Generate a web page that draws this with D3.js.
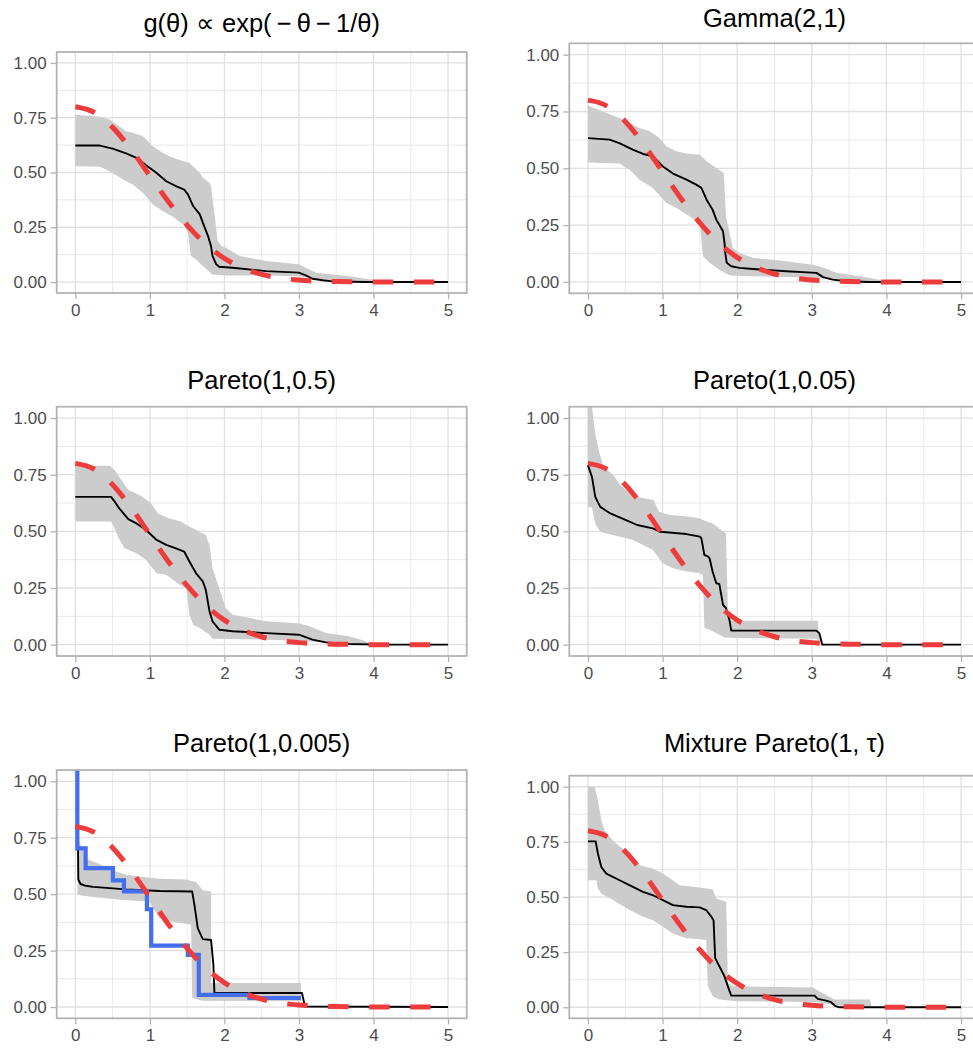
<!DOCTYPE html>
<html>
<head>
<meta charset="utf-8">
<script src="https://cdn.jsdelivr.net/npm/d3@7"></script>
<style>
  body { margin: 0; background: #ffffff; }
  svg { display: block; font-family: "Liberation Sans", Arial, Helvetica, sans-serif; }
</style>
</head>
<body>
<svg id="chart" width="973" height="1049"></svg>
<script>
// ---- axis ticks ----
const xTicks = [0, 1, 2, 3, 4, 5];
const xMinor = [0.5, 1.5, 2.5, 3.5, 4.5];
const yTicks = [0, 0.25, 0.5, 0.75, 1];
const yTickLabels = ["0.00", "0.25", "0.50", "0.75", "1.00"];
const yMinor = [0.125, 0.375, 0.625, 0.875];

// ---- true density (red dashed), shared by every panel ----
const priorX = [0, 0.25, 0.5, 0.75, 1, 1.25, 1.5, 1.75, 2, 2.25, 2.5, 2.75, 3, 3.25, 3.5, 3.75, 4, 4.25, 4.5, 4.75, 5];
const priorY = [0.80, 0.775, 0.706, 0.604, 0.485, 0.366, 0.260, 0.173, 0.108, 0.064, 0.035, 0.018, 0.009, 0.004, 0.002, 0.001, 0, 0, 0, 0, 0];

// ---- posterior mean [x, y] and band edges, one set per prior ----
const fitExpInv = [[0,0.623],[0.33,0.623],[0.50,0.609],[0.68,0.587],[0.82,0.567],[0.95,0.533],[1.09,0.498],[1.22,0.460],[1.35,0.438],[1.46,0.422],[1.51,0.400],[1.58,0.347],[1.67,0.309],[1.71,0.271],[1.78,0.210],[1.82,0.164],[1.84,0.119],[1.89,0.081],[1.93,0.070],[2.11,0.065],[2.56,0.050],[3.00,0.043],[3.09,0.030],[3.18,0.015],[3.32,0.008],[3.45,0.003],[3.90,0],[5,0]];
const upperExpInv = [[0,0.764],[0.33,0.754],[0.46,0.742],[0.59,0.711],[0.68,0.688],[0.77,0.681],[0.91,0.666],[1.04,0.620],[1.17,0.590],[1.31,0.567],[1.44,0.552],[1.53,0.544],[1.67,0.498],[1.71,0.476],[1.80,0.453],[1.82,0.438],[1.87,0.301],[1.91,0.187],[1.96,0.164],[2.02,0.157],[2.20,0.119],[2.56,0.096],[3.00,0.081],[3.09,0.065],[3.23,0.043],[3.45,0.035],[3.67,0.027],[3.90,0.015],[4.12,0.005],[4.34,0]];
const lowerExpInv = [[0,0.529],[0.33,0.526],[0.46,0.506],[0.64,0.468],[0.77,0.445],[0.91,0.407],[1.04,0.354],[1.17,0.324],[1.31,0.298],[1.46,0.258],[1.51,0.225],[1.55,0.119],[1.62,0.103],[1.71,0.073],[1.84,0.035],[2.02,0.030],[2.56,0.030],[3.00,0.027],[3.23,0.015],[3.45,0.008],[3.90,0.002],[4.34,0]];

const fitGamma = [[0,0.633],[0.29,0.626],[0.42,0.611],[0.60,0.582],[0.74,0.563],[0.87,0.553],[1.00,0.509],[1.14,0.477],[1.32,0.450],[1.45,0.428],[1.52,0.414],[1.59,0.362],[1.67,0.318],[1.72,0.274],[1.76,0.252],[1.81,0.223],[1.83,0.172],[1.84,0.128],[1.86,0.084],[1.92,0.069],[2.03,0.062],[2.21,0.057],[2.66,0.047],[3.06,0.040],[3.10,0.032],[3.15,0.021],[3.28,0.010],[3.46,0.003],[3.77,0],[5,0]];
const upperGamma = [[0,0.776],[0.25,0.743],[0.42,0.721],[0.56,0.699],[0.69,0.677],[0.83,0.663],[0.96,0.633],[1.05,0.597],[1.18,0.575],[1.32,0.565],[1.50,0.560],[1.59,0.531],[1.72,0.501],[1.82,0.479],[1.85,0.289],[1.94,0.150],[2.03,0.128],[2.21,0.106],[2.66,0.091],[3.01,0.076],[3.10,0.069],[3.33,0.040],[3.77,0.018],[4.00,0.003],[4.22,0]];
const lowerGamma = [[0,0.526],[0.42,0.521],[0.56,0.494],[0.69,0.450],[0.87,0.413],[1.05,0.348],[1.18,0.326],[1.36,0.289],[1.50,0.260],[1.54,0.113],[1.63,0.084],[1.76,0.054],[1.90,0.028],[2.21,0.025],[2.66,0.022],[3.10,0.018],[3.33,0.007],[3.55,0.001],[3.77,0],[4.22,0]];

const fitPareto05 = [[0,0.652],[0.48,0.652],[0.53,0.630],[0.59,0.601],[0.71,0.554],[0.82,0.535],[0.95,0.506],[1.09,0.462],[1.22,0.440],[1.35,0.425],[1.46,0.411],[1.53,0.367],[1.62,0.315],[1.71,0.279],[1.75,0.242],[1.80,0.147],[1.84,0.103],[1.93,0.066],[2.11,0.059],[2.56,0.051],[3.00,0.044],[3.18,0.022],[3.36,0.010],[3.67,0.003],[4.12,0],[5,0]];
const upperPareto05 = [[0,0.789],[0.46,0.789],[0.53,0.770],[0.62,0.726],[0.71,0.682],[0.86,0.660],[1.00,0.630],[1.11,0.579],[1.26,0.557],[1.42,0.543],[1.49,0.528],[1.62,0.506],[1.75,0.484],[1.80,0.440],[1.84,0.337],[1.93,0.249],[2.02,0.161],[2.11,0.132],[2.56,0.103],[3.00,0.095],[3.14,0.081],[3.36,0.051],[3.67,0.037],[3.90,0.015],[3.99,0]];
const lowerPareto05 = [[0,0.543],[0.48,0.543],[0.53,0.513],[0.57,0.477],[0.66,0.425],[0.82,0.403],[0.95,0.374],[1.09,0.315],[1.22,0.308],[1.40,0.264],[1.49,0.249],[1.53,0.132],[1.58,0.088],[1.67,0.073],[1.80,0.044],[1.84,0.026],[2.11,0.025],[2.56,0.022],[3.00,0.018],[3.23,0.012],[3.45,0.006],[3.67,0],[3.99,0]];

const fitPareto005 = [[0,0.792],[0.054,0.740],[0.098,0.652],[0.165,0.608],[0.30,0.579],[0.51,0.550],[0.66,0.528],[0.87,0.513],[0.97,0.498],[1.32,0.488],[1.50,0.477],[1.52,0.469],[1.56,0.396],[1.61,0.389],[1.63,0.381],[1.67,0.323],[1.72,0.271],[1.76,0.268],[1.81,0.176],[1.85,0.161],[1.90,0.103],[1.92,0.062],[3.06,0.062],[3.10,0.051],[3.14,0],[5,0]];
const upperPareto005 = [[0,1.09],[0.054,1.05],[0.098,0.931],[0.143,0.858],[0.209,0.784],[0.343,0.748],[0.43,0.704],[0.60,0.660],[0.66,0.652],[0.88,0.638],[0.95,0.586],[1.10,0.572],[1.37,0.564],[1.50,0.557],[1.54,0.550],[1.67,0.535],[1.76,0.513],[1.85,0.491],[1.875,0.147],[1.92,0.106],[3.08,0.106],[3.10,0.015],[3.125,0]];
const lowerPareto005 = [[0,0.608],[0.054,0.605],[0.098,0.535],[0.165,0.498],[0.25,0.490],[0.43,0.476],[0.60,0.462],[0.74,0.440],[0.87,0.418],[0.92,0.396],[1.00,0.359],[1.14,0.337],[1.32,0.323],[1.50,0.315],[1.54,0.308],[1.56,0.073],[1.63,0.066],[1.76,0.044],[1.83,0.032],[1.99,0.029],[3.06,0.026],[3.125,0]];

const fitPareto0005 = [[0.036,0.700],[0.040,0.565],[0.070,0.545],[0.14,0.537],[0.237,0.532],[0.683,0.521],[1.129,0.514],[1.567,0.512],[1.598,0.451],[1.643,0.348],[1.71,0.301],[1.821,0.297],[1.852,0.186],[1.866,0.062],[3.04,0.062],[3.06,0.032],[3.08,0.002],[5,0]];
const upperPareto0005 = [[0.03,0.74],[0.07,0.72],[0.147,0.656],[0.326,0.634],[0.504,0.605],[0.683,0.586],[0.906,0.576],[1.129,0.568],[1.487,0.565],[1.621,0.553],[1.71,0.517],[1.821,0.512],[1.822,0.106],[3.027,0.106]];
const lowerPareto0005 = [[0.03,0.50],[0.058,0.495],[0.237,0.487],[0.683,0.473],[0.951,0.468],[0.996,0.465],[1.129,0.392],[1.308,0.377],[1.553,0.366],[1.567,0.041],[1.70,0.028],[3.027,0.025]];
// single-draw step estimate (blue)
const stepX = [0.027, 0.027, 0.138, 0.504, 0.652, 0.96, 1.018, 1.509, 1.656, 2.335, 3.027];
const stepY = [1.2, 0.703, 0.615, 0.561, 0.512, 0.433, 0.272, 0.231, 0.054, 0.040, 0.040];

const fitMixture = [[0,0.752],[0.103,0.752],[0.134,0.696],[0.179,0.636],[0.246,0.606],[0.424,0.576],[0.603,0.546],[0.737,0.523],[0.871,0.508],[1.004,0.486],[1.138,0.463],[1.317,0.456],[1.496,0.453],[1.585,0.441],[1.652,0.411],[1.683,0.395],[1.705,0.223],[1.763,0.185],[1.830,0.140],[1.875,0.095],[1.920,0.053],[3.036,0.053],[3.080,0.038],[3.192,0.030],[3.259,0.023],[3.317,0.005],[3.371,0],[5,0]];
const upperMixture = [[0,1.0],[0.089,1.0],[0.134,0.937],[0.179,0.847],[0.223,0.802],[0.335,0.756],[0.513,0.704],[0.692,0.644],[0.871,0.629],[1.004,0.606],[1.138,0.576],[1.228,0.553],[1.406,0.546],[1.585,0.538],[1.674,0.534],[1.719,0.493],[1.853,0.478],[1.875,0.110],[1.942,0.095],[3.013,0.090],[3.103,0.072],[3.304,0.035],[3.78,0.035],[3.80,0]];
const lowerMixture = [[0,0.576],[0.112,0.576],[0.134,0.538],[0.179,0.516],[0.335,0.486],[0.558,0.441],[0.737,0.411],[0.871,0.395],[1.004,0.365],[1.138,0.335],[1.317,0.313],[1.496,0.308],[1.585,0.305],[1.607,0.095],[1.674,0.050],[1.763,0.035],[1.987,0.027],[3.058,0.024],[3.281,0.012],[3.549,0.002],[3.80,0]];

const titles = ["g(θ) ∝ exp(−θ−1/θ)", "Gamma(2,1)", "Pareto(1,0.5)", "Pareto(1,0.05)", "Pareto(1,0.005)", "Mixture Pareto(1, τ)"];

// ---- panel geometry (pixels) ----
const layout = [
  { l: 56.7,  r: 466.7, t: 52,    b: 293,    ty: 31.7 },
  { l: 569.3, r: 979.7, t: 43.3,  b: 293.3,  ty: 26.7 },
  { l: 56.7,  r: 466.7, t: 406.7, b: 656,    ty: 389.3 },
  { l: 569.3, r: 979.7, t: 406.7, b: 656,    ty: 389.3 },
  { l: 56.7,  r: 466.7, t: 770,   b: 1018.3, ty: 752.3 },
  { l: 569.3, r: 979.7, t: 775.7, b: 1018.3, ty: 752.3 }
];

const series = [
  { fit: fitExpInv,     upper: upperExpInv,     lower: lowerExpInv },
  { fit: fitGamma,      upper: upperGamma,      lower: lowerGamma },
  { fit: fitPareto05,   upper: upperPareto05,   lower: lowerPareto05 },
  { fit: fitPareto005,  upper: upperPareto005,  lower: lowerPareto005 },
  { fit: fitPareto0005, upper: upperPareto0005, lower: lowerPareto0005, step: true },
  { fit: fitMixture,    upper: upperMixture,    lower: lowerMixture }
];

const GRID = "#e0e0e0", BORDER = "#b3b3b3", TEXT = "#4d4d4d";
const RED = "#ee3b3b", BLUE = "#436eee", BAND = "#cccccc";

const svg = d3.select("#chart");
svg.append("rect").attr("width", 973).attr("height", 1049).attr("fill", "#ffffff");

const priorPts = priorX.map((x, i) => [x, priorY[i]]);
const stepPts = stepX.map((x, i) => [x, stepY[i]]);

layout.forEach((L, i) => {
  const S = series[i];
  const x = d3.scaleLinear().domain([-0.25, 5.25]).range([L.l, L.r]);
  const y = d3.scaleLinear().domain([-0.05, 1.05]).range([L.b, L.t]);
  const g = svg.append("g");

  const clipId = "clip" + i;
  svg.append("defs").append("clipPath").attr("id", clipId)
    .append("rect").attr("x", L.l).attr("y", L.t).attr("width", L.r - L.l).attr("height", L.b - L.t);

  // grid
  const grid = g.append("g");
  grid.selectAll(".vmin").data(xMinor).join("line")
    .attr("x1", d => x(d)).attr("x2", d => x(d)).attr("y1", L.t).attr("y2", L.b)
    .attr("stroke", GRID).attr("stroke-width", 0.7);
  grid.selectAll(".hmin").data(yMinor).join("line")
    .attr("y1", d => y(d)).attr("y2", d => y(d)).attr("x1", L.l).attr("x2", L.r)
    .attr("stroke", GRID).attr("stroke-width", 0.7);
  grid.selectAll(".vmaj").data(xTicks).join("line")
    .attr("x1", d => x(d)).attr("x2", d => x(d)).attr("y1", L.t).attr("y2", L.b)
    .attr("stroke", GRID).attr("stroke-width", 1.3);
  grid.selectAll(".hmaj").data(yTicks).join("line")
    .attr("y1", d => y(d)).attr("y2", d => y(d)).attr("x1", L.l).attr("x2", L.r)
    .attr("stroke", GRID).attr("stroke-width", 1.3);

  const plot = g.append("g").attr("clip-path", `url(#${clipId})`);

  // credible band: upper edge forward, lower edge backward
  const bandPts = S.upper.concat(S.lower.slice().reverse());
  plot.append("path")
    .attr("d", d3.line().x(d => x(d[0])).y(d => y(d[1]))(bandPts) + "Z")
    .attr("fill", BAND).attr("stroke", "none");

  // posterior mean
  plot.append("path")
    .attr("d", d3.line().x(d => x(d[0])).y(d => y(d[1]))(S.fit))
    .attr("fill", "none").attr("stroke", "#000000").attr("stroke-width", 1.9)
    .attr("stroke-linejoin", "round");

  if (S.step) {
    plot.append("path")
      .attr("d", d3.line().curve(d3.curveStepAfter).x(d => x(d[0])).y(d => y(d[1]))(stepPts))
      .attr("fill", "none").attr("stroke", BLUE).attr("stroke-width", 4.2);
  }

  // true density
  plot.append("path")
    .attr("d", d3.line().curve(d3.curveMonotoneX).x(d => x(d[0])).y(d => y(d[1]))(priorPts))
    .attr("fill", "none").attr("stroke", RED).attr("stroke-width", 5)
    .attr("stroke-dasharray", "20.5,20.5").attr("stroke-linecap", "butt");

  // border
  g.append("rect").attr("x", L.l).attr("y", L.t).attr("width", L.r - L.l).attr("height", L.b - L.t)
    .attr("fill", "none").attr("stroke", BORDER).attr("stroke-width", 1.8);

  // axes
  const ax = g.append("g").attr("transform", `translate(0,${L.b})`)
    .call(d3.axisBottom(x).tickValues(xTicks).tickSize(6).tickPadding(5).tickFormat(d3.format("d")));
  const ay = g.append("g").attr("transform", `translate(${L.l},0)`)
    .call(d3.axisLeft(y).tickValues(yTicks).tickSize(6).tickPadding(4)
      .tickFormat((d, k) => yTickLabels[k]));
  [ax, ay].forEach(a => {
    a.select(".domain").remove();
    a.selectAll(".tick line").attr("stroke", BORDER).attr("stroke-width", 1.3);
    a.selectAll(".tick text").attr("fill", TEXT).style("font-size", "17px")
      .style("font-family", '"Liberation Sans", Arial, sans-serif');
  });

  // title
  const cx = (L.l + L.r) / 2;
  const t = g.append("text").attr("x", cx).attr("y", L.ty).attr("text-anchor", "middle")
    .attr("fill", "#000000").style("font-size", "25.5px");
  if (i === 0) {
    const parts = ["g(θ) ∝ exp(", "\u2009−\u2009", "θ", "\u2009−\u2009", "1", "/", "θ", ")"];
    parts.forEach(p => t.append("tspan").text(p));
  } else {
    t.text(titles[i]);
  }
});
</script>
</body>
</html>
